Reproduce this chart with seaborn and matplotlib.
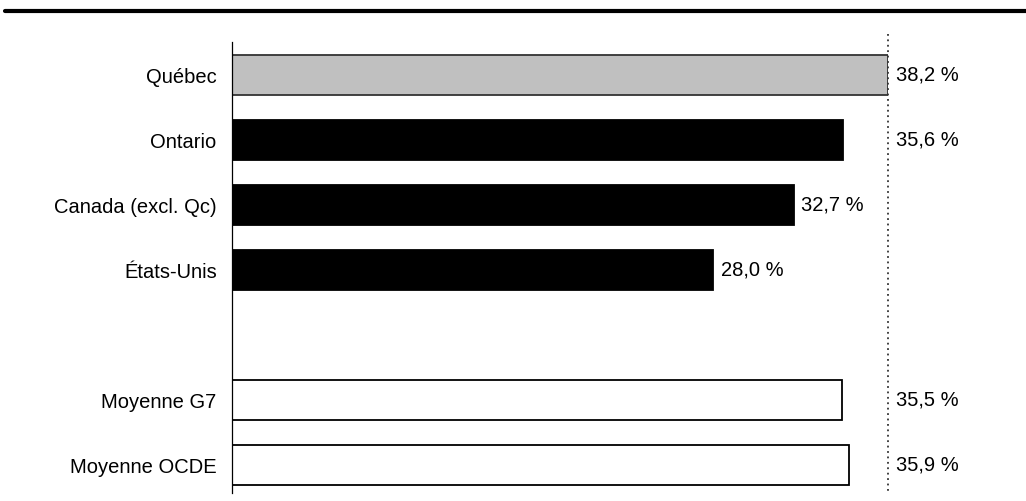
import numpy as np
import pandas as pd
import matplotlib
matplotlib.use("Agg")
import matplotlib.pyplot as plt
import seaborn as sns

# data
categories = ["Québec", "Ontario", "Canada (excl. Qc)", "États-Unis", " ", "Moyenne G7", "Moyenne OCDE"]
values = [38.2, 35.6, 32.7, 28.0, np.nan, 35.5, 35.9]
labels = ["38,2 %", "35,6 %", "32,7 %", "28,0 %", "", "35,5 %", "35,9 %"]
fills = ["#c0c0c0", "black", "black", "black", "white", "white", "white"]
ref_value = 38.2  # Québec, dotted reference line

sns.set_style("white")
plt.rcParams["font.family"] = ["Liberation Sans", "DejaVu Sans"]
plt.rcParams["text.color"] = "black"
plt.rcParams["ytick.color"] = "black"

df = pd.DataFrame({"region": categories, "taux": values})
df = df.dropna()

fig = plt.figure(figsize=(10.26, 5.01), dpi=100)
ax = fig.add_axes([232 / 1026, 8 / 501, 656 / 1026, 451 / 501])

sns.barplot(data=df, x="taux", y="region", order=categories, hue="region",
            hue_order=categories, palette=dict(zip(categories, fills)),
            legend=False, width=0.61, orient="h", ax=ax,
            edgecolor="black", linewidth=1.3)

# Québec bar edge a bit softer
ax.patches[0].set_edgecolor("#333333")

ax.set_xlim(0, ref_value)
ax.set_ylim(6.43, -0.51)
ax.set_xlabel("")
ax.set_ylabel("")
ax.set_xticks([])
ax.tick_params(axis="y", length=0, pad=11, labelsize=14.5, labelcolor="black")
for s in ["top", "right", "bottom"]:
    ax.spines[s].set_visible(False)
ax.spines["left"].set_color("black")
ax.spines["left"].set_linewidth(0.9)

# dotted reference line
ax.plot([ref_value, ref_value], [-0.64, 6.43], color="#333333", lw=1.3,
        ls=(0, (1, 2)), clip_on=False, zorder=5)

# value labels
for i, (v, lab) in enumerate(zip(values, labels)):
    if np.isnan(v):
        continue
    xpos = v if v < 34 else ref_value
    ax.text(xpos + 0.45, i, lab, va="center", ha="left", fontsize=14.5,
            color="black", clip_on=False)

# thick rule at the top
fig.add_artist(plt.Line2D([5 / 1026, 1.0], [1 - 11 / 501, 1 - 11 / 501],
                          color="black", lw=3.0, transform=fig.transFigure))

fig.savefig("out.png", dpi=100)
